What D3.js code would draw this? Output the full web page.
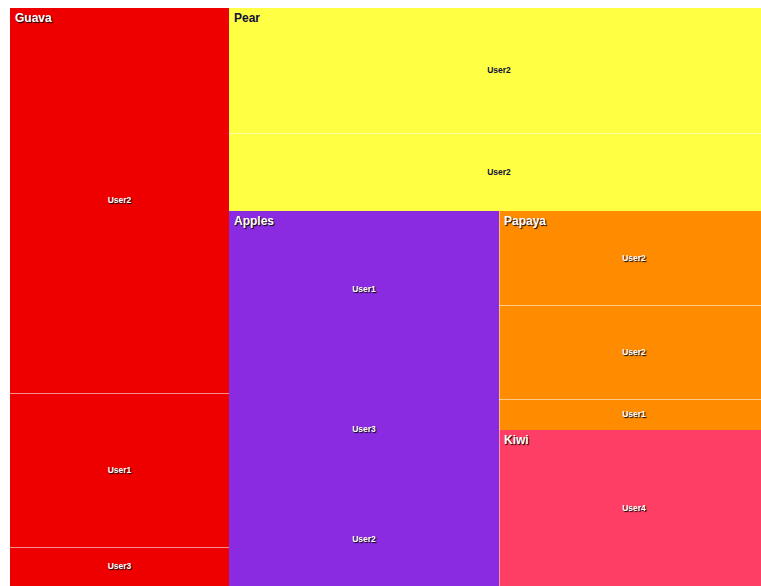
<!DOCTYPE html>
<html>
<head>
<meta charset="utf-8">
<script src="https://cdn.jsdelivr.net/npm/d3@7"></script>
<style>
  body { margin: 0; background: #fff; overflow: hidden; }
  text { font-family: "Liberation Sans", Arial, sans-serif; font-weight: bold; }
  .light { fill: #fff; text-shadow: 1px 1px 1px #000; }
  .dark { fill: #10103a; }
</style>
</head>
<body>
<svg id="chart" width="761" height="586"></svg>
<script>
// groupes (fruits) et couleurs
var groups = ["Guava", "Pear", "Apples", "Papaya", "Kiwi"];
var groupColors = ["#ee0000", "#ffff44", "#8a2be2", "#ff8c00", "#ff3e66"];
var darkText = ["Pear"];
var noLines = ["Apples"];

// feuilles : groupe, utilisateur, valeur
var leafGroup = ["Guava", "Guava", "Guava", "Pear", "Pear", "Apples", "Apples", "Apples", "Papaya", "Papaya", "Papaya", "Kiwi"];
var leafUser  = ["User2", "User1", "User3", "User2", "User2", "User1", "User3", "User2", "User2", "User2", "User1", "User4"];
var leafValue = [10, 4, 1, 8, 5, 5, 4, 3, 3, 3, 1, 5];

var margin = {left: 10, top: 8};
var width = 759, height = 578;

var root = d3.hierarchy({
  name: "root",
  children: groups.map(g => ({
    name: g,
    children: leafGroup.map((lg, i) => ({group: lg, name: leafUser[i], value: leafValue[i]}))
                       .filter(d => d.group === g)
  }))
}).sum(d => d.value || 0);

// premier niveau : on coupe une bande à la fois le long du côté le plus long
function stripTile(parent, x0, y0, x1, y1) {
  if (parent.depth > 0) return d3.treemapSlice(parent, x0, y0, x1, y1);
  var value = parent.value, n = parent.children.length;
  parent.children.forEach((c, i) => {
    c.x0 = x0; c.y0 = y0; c.x1 = x1; c.y1 = y1;
    if (i < n - 1) {
      if (x1 - x0 > y1 - y0) {
        var w = (x1 - x0) * c.value / value;
        c.x1 = x0 + w; x0 += w;
      } else {
        var h = (y1 - y0) * c.value / value;
        c.y1 = y0 + h; y0 += h;
      }
    }
    value -= c.value;
  });
}

d3.treemap().size([width, height]).tile(stripTile).round(true)(root);

var color = d3.scaleOrdinal().domain(groups).range(groupColors);
var svg = d3.select("#chart");
var g = svg.append("g").attr("transform", "translate(" + margin.left + "," + margin.top + ")");

var leaves = g.selectAll("g.leaf")
  .data(root.leaves())
  .enter()
  .append("g")
  .attr("class", "leaf");

leaves.append("rect")
  .attr("x", d => d.x0)
  .attr("y", d => d.y0)
  .attr("width", d => d.x1 - d.x0)
  .attr("height", d => d.y1 - d.y0)
  .attr("shape-rendering", "crispEdges")
  .attr("fill", d => color(d.parent.data.name));

// lignes claires entre les cellules
leaves.filter(d => d.y0 > d.parent.y0 && !noLines.includes(d.parent.data.name))
  .append("line")
  .attr("x1", d => d.x0).attr("x2", d => d.x1)
  .attr("y1", d => d.y0 + 0.5).attr("y2", d => d.y0 + 0.5)
  .attr("stroke", "rgba(255,255,255,0.55)")
  .attr("stroke-width", 1);

g.selectAll("line.sep")
  .data(root.children.filter(d => d.x0 > 0 && d.y0 > 0 && !noLines.includes(d.data.name)))
  .enter()
  .append("line")
  .attr("class", "sep")
  .attr("x1", d => d.x0 + 0.5).attr("x2", d => d.x0 + 0.5)
  .attr("y1", d => d.y0).attr("y2", d => d.y1)
  .attr("stroke", "rgba(255,255,255,0.45)");

leaves.append("text")
  .attr("class", d => darkText.includes(d.parent.data.name) ? "dark" : "light")
  .attr("x", d => (d.x0 + d.x1) / 2)
  .attr("y", d => (d.y0 + d.y1) / 2)
  .attr("dy", "0.35em")
  .attr("text-anchor", "middle")
  .style("font-size", "8.5px")
  .text(d => d.data.name);

g.selectAll("text.group")
  .data(root.children)
  .enter()
  .append("text")
  .attr("class", d => "group " + (darkText.includes(d.data.name) ? "dark" : "light"))
  .attr("x", d => d.x0 + 5)
  .attr("y", d => d.y0 + 14)
  .style("font-size", "12px")
  .text(d => d.data.name);
</script>
</body>
</html>
